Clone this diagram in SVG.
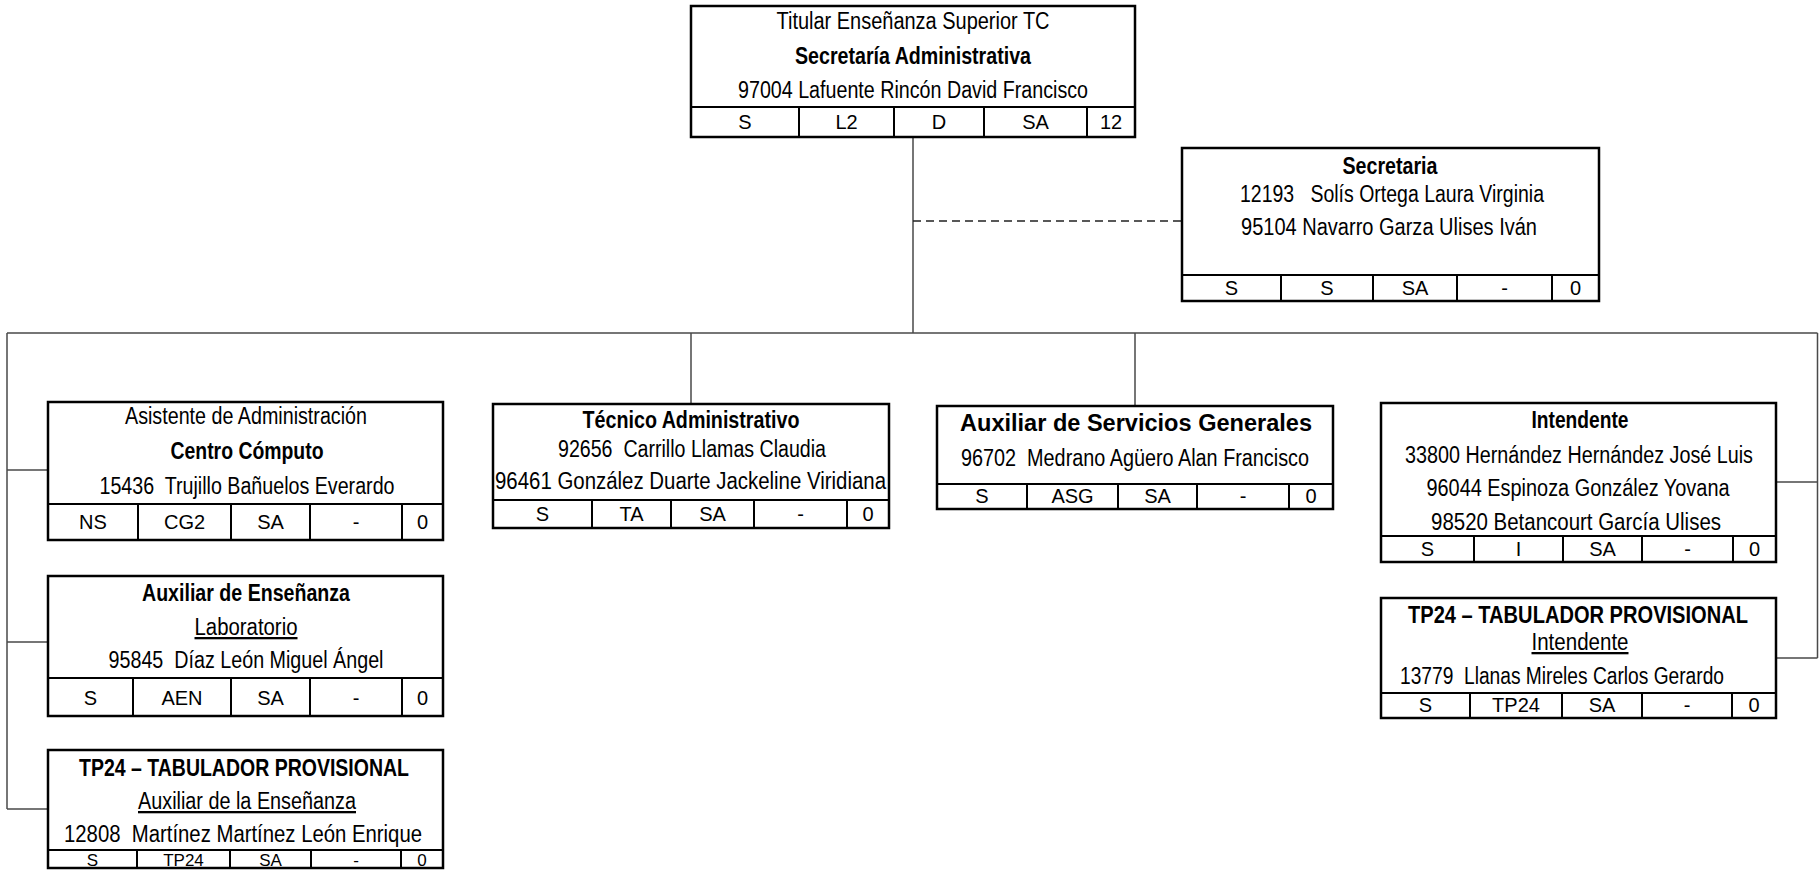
<svg xmlns="http://www.w3.org/2000/svg" width="1819" height="871" viewBox="0 0 1819 871">
<style>
.box{fill:#fff;stroke:#000;stroke-width:2.5}
.grid{stroke:#000;stroke-width:2;fill:none}
.conn{stroke:#4a4a4a;stroke-width:1.5;fill:none}
.dash{stroke:#222;stroke-dasharray:8 5}
text{font-family:"Liberation Sans Narrow","Liberation Sans",Arial,sans-serif;fill:#000}
.t{font-size:23px;text-anchor:middle}
.b{font-weight:bold}
.u{text-decoration:underline}
.c{font-size:20px;text-anchor:middle}
.s{font-size:17px}
</style>
<rect width="1819" height="871" fill="#fff"/>
<g id="connectors">
<path class="conn" d="M913,137V333M7,333H1817.5M691,333V404M1135,333V406M7,333V809M7,470H48M7,642H48M7,809H48M1817.5,333V658M1776,482H1817.5M1776,658H1817.5"/>
<path class="conn dash" d="M913,221H1182"/>
</g>
<g id="titular">
<rect class="box" x="691" y="6" width="444" height="131"/>
<path class="grid" d="M691,107H1135M799,107V137M894,107V137M984,107V137M1087,107V137"/>
<text class="t" x="913" y="29" textLength="273" lengthAdjust="spacingAndGlyphs">Titular Enseñanza Superior TC</text>
<text class="t b" x="913" y="64" textLength="236" lengthAdjust="spacingAndGlyphs">Secretaría Administrativa</text>
<text class="t" x="913" y="98" textLength="350" lengthAdjust="spacingAndGlyphs">97004 Lafuente Rincón David Francisco</text>
<text class="c" x="745" y="129">S</text><text class="c" x="846.5" y="129">L2</text><text class="c" x="939" y="129">D</text><text class="c" x="1035.5" y="129">SA</text><text class="c" x="1111" y="129">12</text>
</g>
<g id="secretaria">
<rect class="box" x="1182" y="148" width="417" height="153"/>
<path class="grid" d="M1182,275H1599M1281,275V301M1373,275V301M1457,275V301M1552,275V301"/>
<text class="t b" x="1390" y="174" textLength="95" lengthAdjust="spacingAndGlyphs">Secretaria</text>
<text class="t" x="1392" y="202" textLength="304" lengthAdjust="spacingAndGlyphs" xml:space="preserve">12193   Solís Ortega Laura Virginia</text>
<text class="t" x="1389" y="235" textLength="296" lengthAdjust="spacingAndGlyphs">95104 Navarro Garza Ulises Iván</text>
<text class="c" x="1231.5" y="295">S</text><text class="c" x="1327" y="295">S</text><text class="c" x="1415" y="295">SA</text><text class="c" x="1504.5" y="295">-</text><text class="c" x="1575.5" y="295">0</text>
</g>
<g id="asistente">
<rect class="box" x="48" y="402" width="395" height="138"/>
<path class="grid" d="M48,504H443M138,504V540M231,504V540M310,504V540M402,504V540"/>
<text class="t" x="246" y="424" textLength="242" lengthAdjust="spacingAndGlyphs">Asistente de Administración</text>
<text class="t b" x="247" y="459" textLength="153" lengthAdjust="spacingAndGlyphs">Centro Cómputo</text>
<text class="t" x="247" y="494" textLength="295" lengthAdjust="spacingAndGlyphs" xml:space="preserve">15436  Trujillo Bañuelos Everardo</text>
<text class="c" x="93" y="529">NS</text><text class="c" x="184.5" y="529">CG2</text><text class="c" x="270.5" y="529">SA</text><text class="c" x="356" y="529">-</text><text class="c" x="422.5" y="529">0</text>
</g>
<g id="auxiliar-ensenanza">
<rect class="box" x="48" y="576" width="395" height="140"/>
<path class="grid" d="M48,678H443M133,678V716M231,678V716M310,678V716M402,678V716"/>
<text class="t b" x="246" y="601" textLength="208" lengthAdjust="spacingAndGlyphs">Auxiliar de Enseñanza</text>
<text class="t u" x="246" y="635" textLength="103" lengthAdjust="spacingAndGlyphs">Laboratorio</text>
<text class="t" x="246" y="668" textLength="275" lengthAdjust="spacingAndGlyphs" xml:space="preserve">95845  Díaz León Miguel Ángel</text>
<text class="c" x="90.5" y="705">S</text><text class="c" x="182" y="705">AEN</text><text class="c" x="270.5" y="705">SA</text><text class="c" x="356" y="705">-</text><text class="c" x="422.5" y="705">0</text>
</g>
<g id="tp24-auxiliar">
<rect class="box" x="48" y="750" width="395" height="118"/>
<path class="grid" d="M48,850H443M137,850V868M230,850V868M311,850V868M401,850V868"/>
<text class="t b" x="244" y="776" textLength="330" lengthAdjust="spacingAndGlyphs">TP24 – TABULADOR PROVISIONAL</text>
<text class="t u" x="247" y="809" textLength="218" lengthAdjust="spacingAndGlyphs">Auxiliar de la Enseñanza</text>
<text class="t" x="243" y="842" textLength="358" lengthAdjust="spacingAndGlyphs" xml:space="preserve">12808  Martínez Martínez León Enrique</text>
<text class="c s" x="92.5" y="866">S</text><text class="c s" x="183.5" y="866">TP24</text><text class="c s" x="270.5" y="866">SA</text><text class="c s" x="356" y="866">-</text><text class="c s" x="422" y="866">0</text>
</g>
<g id="tecnico">
<rect class="box" x="493" y="404" width="396" height="124"/>
<path class="grid" d="M493,500H889M592,500V528M671,500V528M754,500V528M847,500V528"/>
<text class="t b" x="691" y="428" textLength="217" lengthAdjust="spacingAndGlyphs">Técnico Administrativo</text>
<text class="t" x="692" y="457" textLength="268" lengthAdjust="spacingAndGlyphs" xml:space="preserve">92656  Carrillo Llamas Claudia</text>
<text class="t" x="690.5" y="489" textLength="391" lengthAdjust="spacingAndGlyphs">96461 González Duarte Jackeline Viridiana</text>
<text class="c" x="542.5" y="521">S</text><text class="c" x="631.5" y="521">TA</text><text class="c" x="712.5" y="521">SA</text><text class="c" x="800.5" y="521">-</text><text class="c" x="868" y="521">0</text>
</g>
<g id="servicios">
<rect class="box" x="937" y="406" width="396" height="103"/>
<path class="grid" d="M937,484H1333M1027,484V509M1118,484V509M1197,484V509M1289,484V509"/>
<text class="t b" x="1136" y="431" textLength="352" lengthAdjust="spacingAndGlyphs">Auxiliar de Servicios Generales</text>
<text class="t" x="1135" y="466" textLength="348" lengthAdjust="spacingAndGlyphs" xml:space="preserve">96702  Medrano Agüero Alan Francisco</text>
<text class="c" x="982" y="503">S</text><text class="c" x="1072.5" y="503">ASG</text><text class="c" x="1157.5" y="503">SA</text><text class="c" x="1243" y="503">-</text><text class="c" x="1311" y="503">0</text>
</g>
<g id="intendente">
<rect class="box" x="1381" y="403" width="395" height="159"/>
<path class="grid" d="M1381,536H1776M1474,536V562M1563,536V562M1642,536V562M1733,536V562"/>
<text class="t b" x="1580" y="428" textLength="97" lengthAdjust="spacingAndGlyphs">Intendente</text>
<text class="t" x="1579" y="463" textLength="348" lengthAdjust="spacingAndGlyphs">33800 Hernández Hernández José Luis</text>
<text class="t" x="1578" y="496" textLength="303" lengthAdjust="spacingAndGlyphs">96044 Espinoza González Yovana</text>
<text class="t" x="1576" y="530" textLength="290" lengthAdjust="spacingAndGlyphs">98520 Betancourt García Ulises</text>
<text class="c" x="1427.5" y="556">S</text><text class="c" x="1518.5" y="556">I</text><text class="c" x="1602.5" y="556">SA</text><text class="c" x="1687.5" y="556">-</text><text class="c" x="1754.5" y="556">0</text>
</g>
<g id="tp24-intendente">
<rect class="box" x="1381" y="598" width="395" height="120"/>
<path class="grid" d="M1381,693H1776M1470,693V718M1562,693V718M1642,693V718M1732,693V718"/>
<text class="t b" x="1578" y="623" textLength="340" lengthAdjust="spacingAndGlyphs">TP24 – TABULADOR PROVISIONAL</text>
<text class="t u" x="1580" y="650" textLength="97" lengthAdjust="spacingAndGlyphs">Intendente</text>
<text class="t" x="1562" y="684" textLength="324" lengthAdjust="spacingAndGlyphs" xml:space="preserve">13779  Llanas Mireles Carlos Gerardo</text>
<text class="c" x="1425.5" y="712">S</text><text class="c" x="1516" y="712">TP24</text><text class="c" x="1602" y="712">SA</text><text class="c" x="1687" y="712">-</text><text class="c" x="1754" y="712">0</text>
</g>
</svg>
